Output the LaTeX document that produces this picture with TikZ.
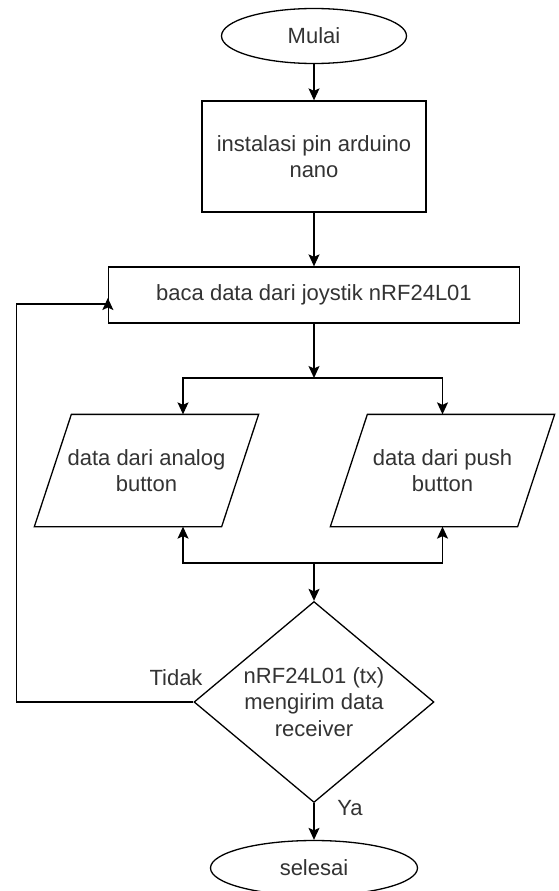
\documentclass[tikz,border=0pt]{standalone}
\usepackage{fontspec}
\setmainfont{Liberation Sans}
\usetikzlibrary{arrows.meta,shapes.geometric,calc}

\begin{document}
\begin{tikzpicture}[x=1pt,y=-1pt,line width=1.3pt,
  font=\fontsize{22}{26.4}\selectfont,
  every node/.style={text=black!80,align=center,inner sep=0pt},
  terminal/.style={draw=black,ellipse,minimum width=185pt,minimum height=55pt},
  process/.style={draw=black,rectangle,minimum width=224pt,minimum height=111pt},
  io/.style={rectangle,minimum width=223pt,minimum height=111pt},
  decision/.style={draw=black,diamond,aspect=1.19,minimum width=240pt,minimum height=201pt},
  flow/.style={-{Stealth[length=12pt,width=11pt,inset=2.5pt]}}]
        \fill[white] (0,0) rectangle (559,891);
        \useasboundingbox (0,0) rectangle (559,891);
        \node[terminal] (mulai) at (314,36) {Mulai};
        \node[process] (instalasi) at (314,156.5) {instalasi pin arduino\\nano};
        \node[process,minimum width=411pt,minimum height=56pt] (baca) at (314,295) {baca data dari joystik nRF24L01};
        \node[io] (analog) at (146.5,470.5) {data dari analog\\button};
        \node[io] (push) at (442.5,470.5) {data dari push\\button};
        \foreach \n in {analog,push}
          \draw (\n.south west) -- ([xshift=37pt]\n.north west) -- (\n.north east) -- ([xshift=-37pt]\n.south east) -- cycle;
        \node[decision] (kirim) at (314,702) {nRF24L01 (tx)\\mengirim data\\receiver};
        \node[terminal,minimum width=207pt] (selesai) at (314,868) {selesai};
        \node (tidak) at (176,678) {Tidak};
        \node (ya) at (350,808) {Ya};
        \coordinate (split) at (314,378);
        \coordinate (join) at (314,563);
        \draw[flow] (mulai) -- (instalasi);
        \draw[flow] (instalasi) -- (baca);
        \draw[flow] (baca) -- (split);
        \draw[flow] (split) -| ([xshift=36.5pt]analog.north);
        \draw[flow] (split) -| (push.north);
        \draw[flow] (join) -| ([xshift=36.5pt]analog.south);
        \draw[flow] (join) -| (push.south);
        \draw[flow] (join) -- (kirim);
        \draw[flow] (kirim) -- (selesai);
        \draw[flow] (kirim.west) -- ++(-177,0) |- ([yshift=-9pt]baca.west) -- ([yshift=-3pt]baca.west);
      \end{tikzpicture}
\end{document}
